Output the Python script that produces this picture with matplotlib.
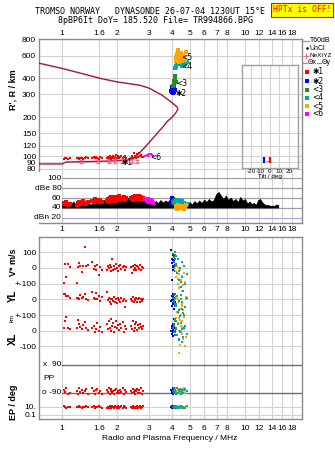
import numpy as np
import matplotlib
matplotlib.use('Agg')
import matplotlib.pyplot as plt
from matplotlib.lines import Line2D

# ---------------- data ----------------
freq_ticks = [1, 1.6, 2, 3, 4, 5, 6, 7, 8, 10, 12, 14, 16, 18]
freq_labels = ['1', '1.6', '2', '3', '4', '5', '6', '7', '8', '10', '12', '14', '16', '18']
height_ticks = [80, 90, 100, 120, 150, 200, 300, 400, 600, 800]

# Ne profile (plasma frequency MHz, real height km)
prof_f = [0.74, 1.0, 1.05, 1.5, 2.0, 2.4, 2.6, 2.8, 3.0, 3.2, 3.43, 3.56, 3.75, 4.0, 4.2, 4.3,
          4.25, 4.14, 3.9, 3.52, 3.0, 2.67, 2.0, 1.61, 1.0, 0.74]
prof_h = [87, 87, 90, 91, 92, 94, 103, 115, 128, 142, 159, 168, 185, 200, 218, 232,
          240, 248, 266, 296, 335, 353, 375, 400, 477, 525]

# E-layer (*1, red) echoes
red_f = [1.03, 1.04, 1.05, 1.08, 1.10,
         1.20, 1.22, 1.24, 1.26, 1.28, 1.30, 1.33, 1.36, 1.38,
         1.46, 1.49, 1.51, 1.53, 1.56, 1.59, 1.62, 1.65,
         1.76, 1.78, 1.80, 1.82, 1.84, 1.86, 1.88, 1.90, 1.92, 1.95, 1.97, 2.00, 2.02, 2.05, 2.08, 2.11, 2.14, 2.17, 2.20, 2.24,
         2.38, 2.41, 2.43, 2.46, 2.49, 2.52, 2.55, 2.58, 2.61, 2.64, 2.67, 2.70, 2.73, 2.76]
red_h = [95, 97, 96, 95, 96,
         96, 97, 95, 96, 97, 95, 96, 98, 96,
         97, 98, 96, 99, 97, 95, 98, 96,
         96, 98, 97, 100, 95, 99, 97, 101, 96, 98, 102, 97, 100, 96, 99, 101, 97, 98, 100, 96,
         97, 100, 96, 105, 99, 101, 97, 103, 98, 106, 100, 102, 98, 99]
red_v = [-95, 25, -60, 28, 5,
         -95, 5, 32, 13, -25, 10, 134, 13, 20,
         38, -5, 10, -15, 20, -45, 8, -10,
         -15, 10, 0, 20, -20, 5, 57, -10, 15, -5, 25, 0, -18, 10, 20, -8, 5, 15, -12, 3,
         5, -32, 15, -10, 20, 0, -15, 10, 5, -5, 18, -12, 8, 0]
red_yl = [32, 35, 20, 19, 8,
          10, 8, 5, 30, 8, 12, 35, 5, -5,
          45, 10, 0, 38, 5, 20, -10, 12,
          45, -5, 10, -20, 0, -30, 5, -10, 13, -15, 0, -25, 8, -5, -20, 10, -12, 3, -51, -8,
          0, -10, 13, -20, 5, -5, 10, -15, 0, 8, -18, 5, -8, 3]
red_xl = [17, 60, 88, 20, 10,
          17, 70, 45, 25, 10, 38, 57, 15, 5,
          20, 30, -7, 10, 48, 0, 25, -5,
          40, 10, 60, 20, 76, 0, 30, 50, -7, 25, 65, 15, 35, 5, 45, 20, 55, -5, 30, 10,
          30, 10, 64, 0, 40, 20, 55, 5, 35, 15, 45, 25, 10, 30]
red_pp = [-70, -85, -60, -95, -88,
          -75, -95, -60, -85, -70, -92, -80, -65, -100,
          -60, -80, -95, -70, -65, -90, -75, -100,
          -70, -85, -60, -95, -75, -65, -90, -80, -100, -70, -62, -88, -77, -93, -68, -82, -58, -96, -73, -86,
          -75, -90, -62, -85, -98, -70, -80, -65, -92, -72, -88, -60, -95, -78]
red_ep = [14, 10, 7, 10, 10,
          10, 10, 14, 10, 7, 10, 10, 14, 10,
          10, 14, 7, 10, 10, 20, 10, 7,
          7, 10, 5, 14, 10, 7, 20, 10, 5, 14, 10, 7, 14, 5, 10, 14, 7, 20, 10, 5,
          10, 7, 14, 5, 10, 10, 7, 14, 5, 10, 14, 7, 10, 14]
red_db = [50, 48, 52, 47, 49,
          47, 50, 52, 49, 51, 54, 50, 48, 52,
          55, 52, 58, 54, 56, 53, 57, 52,
          55, 58, 52, 60, 56, 62, 54, 59, 57, 63, 55, 60, 58, 64, 57, 61, 59, 62, 56, 60,
          60, 58, 62, 57, 64, 59, 63, 61, 58, 65, 60, 62, 57, 61]

# NeXtYZ markers (pink)
nx_f = [1.27, 1.57, 1.81, 1.95, 2.13, 2.41, 2.57]
nx_h = [91, 91, 92, 92, 92, 92, 91]

# <6 (magenta)
mag_f = [2.85, 2.90, 2.95, 3.00, 3.05, 3.10, 3.15]
mag_h = [101, 102, 100, 104, 103, 102, 100]
mag_db = [58, 55, 59, 52, 57, 54, 50]

# *2 (blue)
blue_f = [3.96, 3.98, 4.00, 4.02, 4.04, 4.05, 4.07, 4.09, 4.10, 4.12, 3.99, 4.03, 4.06, 4.08]
blue_h = [320, 330, 315, 340, 325, 335, 318, 328, 312, 322, 345, 338, 310, 330]
blue_v = [115, 60, 30, 80, 10, -10, 45, 0, 70, 20, -76, 50, 5, 35]
blue_yl = [-10, 20, -40, 0, 32, -25, 10, -60, 5, -15, -5, 15, -30, 25]
blue_xl = [0, -20, 30, 10, -32, 5, -10, 76, 20, -25, 15, 40, -5, 0]
blue_pp = [-70, -90, -80, -60, -95, -75, -85, -65, -90, -72, -88, -78, -68, -92]
blue_ep = [10, 14, 7, 10, 10, 7, 14, 10, 7, 10, 10, 14, 7, 10]
blue_db = [48, 55, 60, 52, 58, 46, 56, 50, 54, 47, 59, 51, 57, 49]

# <3 (green)
green_f = [4.06, 4.08, 4.10, 4.12, 4.14, 4.16, 4.18, 4.11, 4.15]
green_h = [350, 365, 380, 395, 410, 420, 372, 358, 400]
green_v = [90, 40, 70, 10, -20, 55, 25, 0, 80]
green_yl = [10, -20, 25, -45, 0, -30, 15, -10, 35]
green_xl = [20, -10, 45, 0, 60, -25, 10, 30, -5]
green_pp = [-80, -65, -90, -75, -85, -70, -95, -60, -78]
green_ep = [10, 14, 7, 10, 10, 7, 14, 10, 10]
green_db = [52, 55, 50, 56, 53, 51, 54, 55, 52]

# <4 (teal)
teal_f = [4.15, 4.20, 4.25, 4.30, 4.35, 4.40, 4.45, 4.50, 4.55, 4.60, 4.70, 4.80, 4.22, 4.38, 4.48, 4.65]
teal_h = [480, 500, 520, 540, 555, 545, 530, 510, 495, 505, 520, 535, 490, 515, 525, 500]
teal_v = [100, 20, -30, 60, -80, 0, -120, 40, -60, -150, -100, -40, 75, -20, -90, 10]
teal_yl = [0, -40, 20, -80, -10, -108, 30, -60, -20, -90, -50, 10, -30, -70, 5, -100]
teal_xl = [76, 20, -30, 40, -60, 0, 50, -70, 10, -40, 30, -20, 60, -50, -10, 20]
teal_pp = [-70, -85, -60, -90, -75, -65, -95, -80, -70, -88, -62, -78, -92, -68, -84, -74]
teal_ep = [10, 14, 7, 10, 7, 10, 14, 5, 10, 10, 7, 14, 10, 5, 10, 7]
teal_db = [52, 55, 57, 54, 56, 53, 51, 55, 52, 50, 49, 48, 54, 56, 53, 50]

# <5 (orange)
orange_f = [4.18, 4.22, 4.26, 4.30, 4.34, 4.38, 4.42, 4.46, 4.50, 4.55, 4.60, 4.65, 4.70, 4.75, 4.28, 4.36, 4.44, 4.52]
orange_h = [540, 580, 620, 650, 600, 560, 590, 630, 570, 545, 610, 585, 555, 640, 660, 535, 605, 575]
orange_v = [-20, -60, 10, -100, -40, -130, -10, -80, -150, -50, -110, -30, -90, -200, -70, 0, -120, -60]
orange_yl = [10, -40, -80, 0, -120, -20, -60, -100, -140, -30, -70, -110, -50, 13, -90, -10, -130, -45]
orange_xl = [80, 20, -30, 50, -60, 0, -90, 30, -20, 60, -50, 10, -100, -40, 40, -140, -10, 25]
orange_pp = [-75, -60, -90, -70, -85, -65, -95, -80, -62, -88, -72, -58, -92, -78, -68, -84, -66, -74]
orange_ep = [10, 14, 7, 10, 10, 14, 7, 10, 14, 10, 5, 10, 10, 14, 7, 10, 10, 14]
orange_db = [40, 44, 38, 46, 42, 39, 45, 41, 43, 40, 44, 38, 42, 46, 39, 43, 41, 45]

# amplitude (black) trace
db_f = [1.00, 1.03, 1.06, 1.09, 1.12, 1.15, 1.18, 1.21, 1.24, 1.27, 1.30, 1.33, 1.36, 1.40, 1.44, 1.48,
        1.52, 1.56, 1.60, 1.65, 1.70, 1.75, 1.80, 1.86, 1.92, 1.98, 2.04, 2.10, 2.17, 2.24, 2.31, 2.38,
        2.46, 2.54, 2.62, 2.70, 2.79, 2.88, 2.97, 3.06, 3.15, 3.25, 3.35, 3.45, 3.56, 3.67, 3.78, 3.90,
        4.02, 4.14, 4.27, 4.40, 4.54, 4.68, 4.83, 4.98, 5.13, 5.29, 5.45, 5.62, 5.80, 5.98, 6.16, 6.35,
        6.55, 6.75, 6.96, 7.18, 7.40, 7.63, 7.86, 8.10, 8.35, 8.61, 8.88, 9.15, 9.43, 9.72, 10.0, 10.3,
        10.6, 10.9, 11.2, 11.5, 11.8, 12.1, 12.4, 12.7, 13.0, 13.3, 13.6, 13.9, 14.2, 14.5, 14.8, 15.2]
db_hi = [48, 52, 46, 50, 47, 53, 48, 51, 46, 50, 47, 52, 45, 49, 47, 51,
         55, 50, 58, 52, 56, 51, 57, 53, 58, 54, 60, 55, 59, 56, 61, 57,
         60, 55, 62, 58, 63, 55, 52, 58, 48, 54, 50, 56, 51, 55, 52, 58,
         62, 55, 50, 53, 48, 51, 46, 52, 47, 54, 49, 55, 50, 57, 52, 58,
         53, 56, 68, 72, 64, 58, 65, 56, 61, 54, 58, 52, 62, 55, 58, 49,
         53, 48, 50, 46, 56, 58, 52, 48, 46, 46, 45, 44, 45, 44, 47, 46]
db_floor = 41

# tilt inset
tilt_deg = [-6, 0.5]
tilt_lo = [89, 88]
tilt_hi = [98, 98]
tilt_col = ['#0000ff', '#ff0000']

# ---------------- styling ----------------
W, H = 335, 451
fig = plt.figure(figsize=(W / 100, H / 100), dpi=100)
plt.rcParams['font.family'] = ['Liberation Sans', 'DejaVu Sans']

def fr(x0, y0, x1, y1):
    return [x0 / W, 1 - y1 / H, (x1 - x0) / W, (y1 - y0) / H]

GRID = '#d2d2d2'
FRAME = '#8a8a8a'
PROF = '#a8143c'
C_RED, C_BLUE, C_GREEN, C_TEAL, C_ORANGE, C_MAG = '#ff0000', '#0000ff', '#228b22', '#00aaaa', '#ffa500', '#ff00ff'
XLIM = (0.748, 20.5)
FS = 6
MS = 1.9

def base_axes(ax):
    ax.set_xscale('log')
    ax.set_xlim(*XLIM)
    ax.set_xticks(freq_ticks)
    ax.set_xticklabels(freq_labels)
    ax.minorticks_off()
    ax.tick_params(length=0, labelsize=FS, pad=2)
    for s in ax.spines.values():
        s.set_color(FRAME)
        s.set_linewidth(1.0)
    for f in freq_ticks:
        ax.axvline(f, color=GRID, lw=0.8, zorder=0)

# ---- top panel: heights ----
ax1 = fig.add_axes(fr(39, 39, 302, 172))
base_axes(ax1)
ax1.set_yscale('log')
Y1 = (75.4, 805)
ax1.set_ylim(*Y1)
ax1.set_yticks(height_ticks)
ax1.set_yticklabels([str(h) for h in height_ticks])
ax1.minorticks_off()
ax1.xaxis.tick_top()
ax1.tick_params(axis='x', pad=1.5)
ax1.tick_params(axis='y', pad=2)
for h in height_ticks:
    ax1.axhline(h, color=GRID, lw=0.8, zorder=0)
ax1.spines['bottom'].set_visible(False)
ax1.plot(prof_f, prof_h, color=PROF, lw=1.0, zorder=3)
ax1.errorbar(nx_f, nx_h, yerr=3, fmt='none', ecolor='#e0709a', elinewidth=0.9, capsize=1.3, zorder=3)
ax1.plot(red_f, red_h, 's', color=C_RED, ms=MS, mew=0, zorder=4)
ax1.plot(mag_f, mag_h, 's', color=C_MAG, ms=MS, mew=0, zorder=4)
ax1.plot(blue_f, blue_h, 's', color=C_BLUE, ms=MS + 0.4, mew=0, zorder=4)
ax1.plot(green_f, green_h, 's', color=C_GREEN, ms=MS + 0.4, mew=0, zorder=4)
ax1.plot(teal_f, teal_h, 's', color=C_TEAL, ms=MS + 0.4, mew=0, zorder=4)
ax1.plot(orange_f, orange_h, 's', color=C_ORANGE, ms=MS + 0.4, mew=0, zorder=4)
lab_kw = dict(fontsize=5.5, color='k', zorder=6, va='center', family=['DejaVu Sans'])
ax1.text(2.12, 90, '✱1', **lab_kw)
ax1.text(3.05, 97, '<6', **lab_kw)
ax1.text(4.15, 306, '✱2', **lab_kw)
ax1.text(4.22, 366, '<3', **lab_kw)
ax1.text(4.5, 490, '<4', **lab_kw)
ax1.text(4.5, 580, '<5', **lab_kw)
ax1.text(-0.1, 0.62, "R', R / km", transform=ax1.transAxes, rotation=90, fontsize=6.5,
         ha='center', va='center', fontweight='bold')

# ---- dB panel ----
ax2 = fig.add_axes(fr(39, 172, 302, 223))
base_axes(ax2)
ax2.set_ylim(10, 112)
ax2.set_yticks([])
ax2.spines['top'].set_visible(False)
ax2.spines['left'].set_visible(False)
ax2.tick_params(axis='x', pad=2.5)
for lev, col in zip([100, 80, 60, 40, 20], ['#a0a0a0'] * 4 + ['#a8a8f0']):
    ax2.plot([1.0, XLIM[1]], [lev, lev], color=col, lw=0.9, zorder=1)
for lev, txt in zip([100, 80, 60, 40, 20], ['100', 'dBe 80', '60', '40', 'dBn 20']):
    ax2.text(0.99, lev, txt, ha='right', va='center', fontsize=FS)
ax2.fill_between(db_f, db_floor, db_hi, color='k', lw=0.5, zorder=3)
ax2.plot(red_f, red_db, 's', color=C_RED, ms=MS + 0.3, mew=0, zorder=4)
ax2.plot(mag_f, mag_db, 's', color=C_MAG, ms=MS + 0.3, mew=0, zorder=4)
ax2.plot(blue_f, blue_db, 's', color=C_BLUE, ms=MS + 0.3, mew=0, zorder=4)
ax2.plot(green_f, green_db, 's', color=C_GREEN, ms=MS + 0.3, mew=0, zorder=4)
ax2.plot(teal_f, teal_db, 's', color=C_TEAL, ms=MS + 0.3, mew=0, zorder=4)
ax2.plot(orange_f, orange_db, 's', color=C_ORANGE, ms=MS + 0.3, mew=0, zorder=4)

# ---- lower panel ----
ax3 = fig.add_axes(fr(39, 237, 302, 419))
base_axes(ax3)
ax3.set_ylim(-962, 197)
ax3.tick_params(axis='x', pad=4)
OFF_YL, OFF_XL = -200, -400
PP_C, PP_S = -707, 178 / 180
EP_B, EP_S = -936, 25.5
yt = [100, 0, -100, -200, -300, -400, -500, EP_B + 2 * EP_S, EP_B]
ytl = ['100', '0', '+-100', '0', '+-100', '0', '-100', '10.', '0.1']
ax3.set_yticks(yt)
ax3.set_yticklabels(ytl)
for v in yt:
    ax3.axhline(v, color=GRID, lw=0.8, zorder=0)
for pv, txt in zip([90, -90], ['x  90', 'o -90']):
    yy = PP_C + pv * PP_S
    ax3.plot([1.0, XLIM[1]], [yy, yy], color='#6e6e6e', lw=1.0, zorder=1)
    ax3.text(0.99, yy, txt, ha='right', va='center', fontsize=FS)
ax3.text(0.015, (PP_C - (-962)) / (197 + 962), 'PP', transform=ax3.transAxes, fontsize=FS,
         ha='left', va='center')

def lower(f, v, yl, xl, pp, ep, col):
    f = np.array(f)
    kw = dict(color=col, ms=MS + 0.2, mew=0, zorder=4, ls='none', marker='s')
    ax3.plot(f, np.array(v), **kw)
    ax3.plot(f, np.array(yl) + OFF_YL, **kw)
    ax3.plot(f, np.array(xl) + OFF_XL, **kw)
    ax3.plot(f, PP_C + np.array(pp) * PP_S, **kw)
    ax3.plot(f, EP_B + (np.log10(ep) + 1) * EP_S, **kw)

lower(red_f, red_v, red_yl, red_xl, red_pp, red_ep, C_RED)
lower(blue_f, blue_v, blue_yl, blue_xl, blue_pp, blue_ep, C_BLUE)
lower(green_f, green_v, green_yl, green_xl, green_pp, green_ep, C_GREEN)
lower(orange_f, orange_v, orange_yl, orange_xl, orange_pp, orange_ep, C_ORANGE)
lower(teal_f, teal_v, teal_yl, teal_xl, teal_pp, teal_ep, C_TEAL)

def ylab(ypx, txt, fs=7, x=13, bold=True):
    fig.text(x / W, 1 - ypx / H, txt, rotation=90, ha='center', va='center', fontsize=fs,
             fontweight='bold' if bold else 'normal')

ylab(262, 'V* m/s', fs=6.5)
ylab(296, 'YL')
ylab(318, 'km', fs=4.5, x=12, bold=False)
ylab(339, 'XL')
ylab(402, 'EP / deg', fs=6.5)

fig.text(170 / W, 1 - 439 / H, 'Radio and Plasma Frequency / MHz', ha='center', va='center', fontsize=6)

# ---- tilt inset ----
axi = fig.add_axes(fr(242, 65, 298, 168))
ly0, ly1 = np.log10(Y1[1]), np.log10(Y1[0])
def h_at(px):
    return 10 ** (ly0 + (px - 39) / 133 * (ly1 - ly0))
axi.set_yscale('log')
axi.set_ylim(h_at(168), h_at(65))
axi.set_xlim(-30, 30)
axi.set_yticks([])
axi.minorticks_off()
axi.set_xticks([-20, -10, 0, 10, 20])
axi.set_xticklabels(['-20', '-10', '0', '10', '20'])
axi.tick_params(length=0, labelsize=4.5, pad=0.5)
axi.set_xlabel('Tilt / deg', fontsize=4.5, labelpad=0)
for t in [-20, -10, 0, 10, 20]:
    axi.axvline(t, color=GRID, lw=0.8, zorder=0)
for h in height_ticks:
    axi.axhline(h, color=GRID, lw=0.8, zorder=0)
for s in axi.spines.values():
    s.set_color('#a0a0a0')
    s.set_linewidth(1.0)
axi.vlines(tilt_deg, tilt_lo, tilt_hi, colors=tilt_col, lw=1.6, zorder=3)
axi.plot([-3, 0.5], [92, 92], color='#e0709a', lw=0.8, zorder=2)

# ---- titles ----
fig.text(150 / W, 1 - 12 / H, 'TROMSO NORWAY   DYNASONDE 26-07-04 1230UT 15°E', ha='center', va='center',
         fontsize=6, family='DejaVu Sans Mono')
fig.text(156 / W, 1 - 20.5 / H, '8pBP6It DoY= 185.520 File= TR994866.BPG', ha='center', va='center',
         fontsize=6, family='DejaVu Sans Mono')
fig.text(302 / W, 1 - 10 / H, 'HPTx is OFF!', ha='center', va='center', fontsize=5.8,
         family='DejaVu Sans Mono', color='#ff0000',
         bbox=dict(facecolor='#ffff00', edgecolor='#ff0000', boxstyle='square,pad=0.25', lw=0.8))

# ---- legend (right side) ----
LFS = 5
fig.add_artist(Line2D([303 / W, 309 / W], [1 - 41 / H] * 2, color='#a0a0a0', lw=1.0))
fig.text(310 / W, 1 - 41 / H, 'T60dB', fontsize=LFS, va='center')
fig.add_artist(Line2D([307 / W], [1 - 48 / H], color='k', marker='s', ms=0.8, ls='none'))
fig.text(310 / W, 1 - 48 / H, 'UnCl', fontsize=LFS, va='center')
fig.add_artist(Line2D([306 / W], [1 - 55.5 / H], color='#e0709a', marker='+', ms=4, mew=0.8, ls='none'))
fig.text(309 / W, 1 - 55.5 / H, 'NeXtYZ', fontsize=4.6, va='center')
fig.add_artist(Line2D([303 / W, 307 / W], [1 - 63 / H] * 2, color='#e0709a', lw=0.9))
fig.text(307.5 / W, 1 - 63 / H, 'Θx', fontsize=LFS, va='center')
fig.add_artist(Line2D([317 / W, 321 / W], [1 - 63 / H] * 2, color='#8080ff', lw=0.9))
fig.text(321.5 / W, 1 - 63 / H, 'Θy', fontsize=LFS, va='center')
for ypx, col, txt in zip([72, 81, 90, 98, 106, 114],
                         [C_RED, C_BLUE, C_GREEN, C_TEAL, C_ORANGE, C_MAG],
                         ['✱1', '✱2', '<3', '<4', '<5', '<6']):
    fig.add_artist(Line2D([307 / W], [1 - ypx / H], color=col, marker='s', ms=2.3, mew=0, ls='none'))
    fig.text(312 / W, 1 - ypx / H, txt, fontsize=5.5, va='center', family=['DejaVu Sans'])

fig.savefig('out.png', dpi=100)
